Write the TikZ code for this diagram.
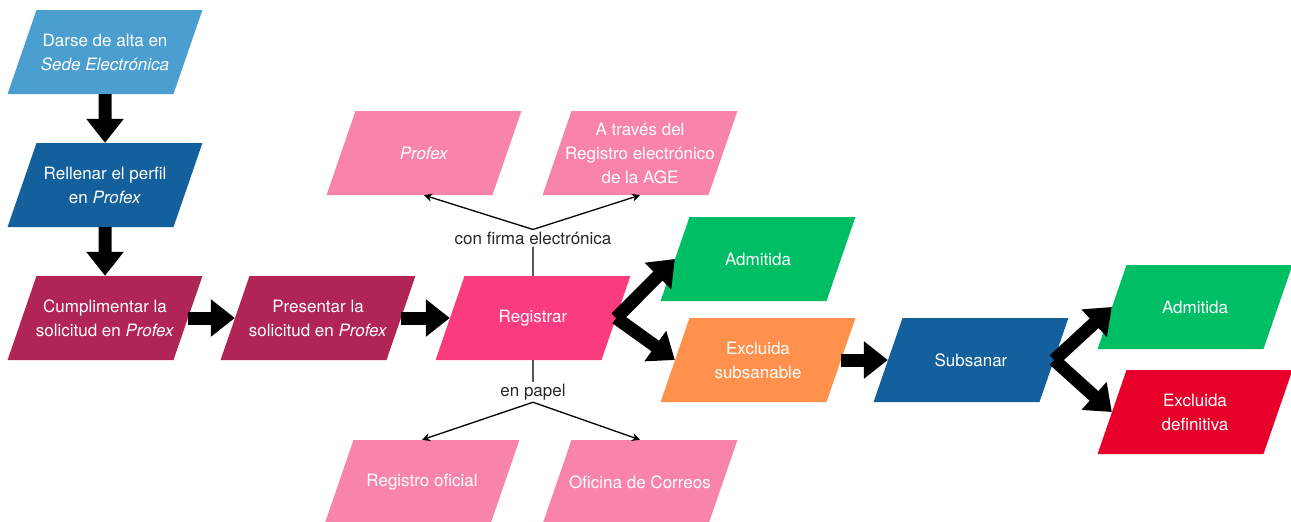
\documentclass[tikz,border=0pt]{standalone}
\usepackage{fontspec}
\setmainfont{TeX Gyre Heros}
\usepackage{tikz}
\usetikzlibrary{arrows.meta,shapes.geometric}
\definecolor{azulclaro}{HTML}{4A9FD0}
\definecolor{azul}{HTML}{13609D}
\definecolor{granate}{HTML}{B02456}
\definecolor{fucsia}{HTML}{FA3C7F}
\definecolor{rosa}{HTML}{F984AB}
\definecolor{verde}{HTML}{00BE64}
\definecolor{naranja}{HTML}{FF914D}
\definecolor{rojo}{HTML}{E8002A}
\tikzset{pbox/.style={trapezium,trapezium left angle=71,trapezium right angle=109,
    inner xsep=-14.5pt,inner ysep=0pt,text=white,font=\fontsize{17}{24}\selectfont,
    execute at begin node={\begin{minipage}[c][84pt][c]{166pt}\centering},
    execute at end node={\end{minipage}}}}
\tikzset{etiq/.style={inner sep=2pt,text=black!85,font=\fontsize{17}{24}\selectfont}}
\tikzset{gruesa/.style={-{Triangle[length=24pt,width=36pt]},line width=13pt}}

\begin{document}
\begin{tikzpicture}[x=1pt,y=-1pt]
\useasboundingbox (0,0) rectangle (1291,522);
% \draw[help lines,step=50] (0,0) grid (1291,522);
\node (alta) [pbox,fill=azulclaro] at (105,52) {Darse de alta en\\\textit{Sede Electrónica}};
\node (perfil) [pbox,fill=azul] at (105,185) {Rellenar el perfil\\en \textit{Profex}};
\node (cumpl) [pbox,fill=granate] at (105,318) {Cumplimentar la\\solicitud en \textit{Profex}};
\node (pres) [pbox,fill=granate] at (318,318) {Presentar la\\solicitud en \textit{Profex}};
\node (reg) [pbox,fill=fucsia] at (533,318) {Registrar};
%
\node (profexe) [pbox,fill=rosa] at (424,153) {\textit{Profex}};
\node (age) [pbox,fill=rosa] at (640,153) {A través del\\Registro electrónico\\de la AGE};
\node (regof) [pbox,fill=rosa] at (422,482) {Registro oficial};
\node (correos) [pbox,fill=rosa] at (640,482) {Oficina de Correos};
\node (firma) [etiq] at (533,238) {con firma electrónica};
\node (papel) [etiq] at (533,392) {en papel};
%
\node (adm1) [pbox,fill=verde] at (758,259) {Admitida};
\node (exsub) [pbox,fill=naranja] at (758,360) {Excluida\\subsanable};
\node (subs) [pbox,fill=azul] at (971,360) {Subsanar};
\node (adm2) [pbox,fill=verde] at (1195,307) {Admitida};
\node (exdef) [pbox,fill=rojo] at (1195,412) {Excluida\\definitiva};
%
\path[gruesa] (alta) edge (perfil);
\path[gruesa] (perfil) edge (cumpl);
\path[gruesa] (cumpl.east) edge (pres.west);
\path[gruesa] (pres.east) edge (reg.west);
\path[gruesa] (reg.east) edge (adm1.west);
\path[gruesa] (reg.east) edge (exsub.west);
\path[gruesa] (exsub.east) edge (subs.west);
\path[gruesa] (subs.east) edge (adm2.west);
\path[gruesa] (subs.east) edge (exdef.west);
%
\draw[line width=1.3pt] (reg.north) -- (firma.south);
\draw[line width=1.3pt] (reg.south) -- (papel.north);
\path[-{Stealth[length=8pt,width=8pt]},line width=1.3pt] (firma.north) edge (profexe.south);
\path[-{Stealth[length=8pt,width=8pt]},line width=1.3pt] (firma.north) edge (age.south);
\path[-{Stealth[length=8pt,width=8pt]},line width=1.3pt] (papel.south) edge (regof.north);
\path[-{Stealth[length=8pt,width=8pt]},line width=1.3pt] (papel.south) edge (correos.north);
\end{tikzpicture}
\end{document}
